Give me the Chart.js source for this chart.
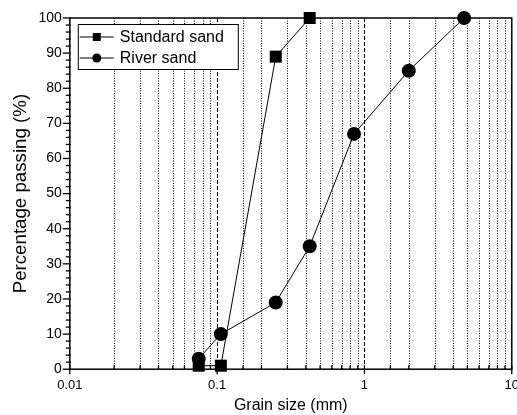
<!DOCTYPE html>
<html>
<head>
<meta charset="utf-8">
<script src="https://cdn.jsdelivr.net/npm/chart.js@4.4.1/dist/chart.umd.min.js"></script>
<style>
  html, body { margin: 0; padding: 0; background: #fff; overflow: hidden; }
  #wrap { width: 517px; height: 415px; overflow: hidden; }
</style>
</head>
<body>
<div id="wrap"><canvas id="myChart" width="527" height="415"></canvas></div>
<script>
// grain size (mm) and percentage passing
var sizeStandard = [0.075, 0.106, 0.25, 0.425];
var passStandard = [1, 1, 89, 100];
var sizeRiver = [0.075, 0.106, 0.25, 0.425, 0.85, 2, 4.75];
var passRiver = [3, 10, 19, 35, 67, 85, 100];
var xTickLabels = [0.01, 0.1, 1, 10];

function toPoints(xs, ys) {
    var pts = [];
    for (var i = 0; i < xs.length; i++) {
        pts.push({ x: xs[i], y: ys[i] });
    }
    return pts;
}

function isLabel(v) {
    for (var i = 0; i < xTickLabels.length; i++) {
        if (Math.abs(v - xTickLabels[i]) < xTickLabels[i] * 1e-6) return true;
    }
    return false;
}

// grid lines, ticks, frame and legend box
var framePlugin = {
    id: 'frame',
    beforeDatasetsDraw: function (chart) {
        var ctx = chart.ctx;
        var area = chart.chartArea;
        var xs = chart.scales.x;
        ctx.save();
        ctx.strokeStyle = '#000';
        ctx.lineWidth = 1;
        xs.ticks.forEach(function (t) {
            var px = Math.round(xs.getPixelForValue(t.value)) + 0.5;
            if (px <= area.left + 1 || px >= area.right - 1) return;
            ctx.setLineDash(isLabel(t.value) ? [4, 2] : [1, 1.5]);
            ctx.beginPath();
            ctx.moveTo(px, area.top);
            ctx.lineTo(px, area.bottom);
            ctx.stroke();
        });
        ctx.restore();
    },
    afterDraw: function (chart) {
        var ctx = chart.ctx;
        var area = chart.chartArea;
        var xs = chart.scales.x;
        var ys = chart.scales.y;
        ctx.save();
        ctx.strokeStyle = '#000';
        ctx.lineWidth = 1.5;
        ctx.setLineDash([]);
        ctx.strokeRect(area.left, area.top, area.right - area.left, area.bottom - area.top);

        ctx.lineWidth = 1.3;
        xs.ticks.forEach(function (t) {
            var px = xs.getPixelForValue(t.value);
            var major = isLabel(t.value);
            ctx.beginPath();
            ctx.moveTo(px, area.bottom - 4);
            ctx.lineTo(px, area.bottom + (major ? 5 : 0));
            ctx.stroke();
        });
        ys.ticks.forEach(function (t) {
            var py = ys.getPixelForValue(t.value);
            var major = t.value % 10 === 0;
            ctx.beginPath();
            ctx.moveTo(area.left - (major ? 7 : 4), py);
            ctx.lineTo(area.left + 1, py);
            ctx.stroke();
        });

        // legend
        var bx = area.left + 8, by = area.top + 6, bw = 160, bh = 45;
        ctx.fillStyle = '#fff';
        ctx.fillRect(bx, by, bw, bh);
        ctx.lineWidth = 1;
        ctx.strokeRect(bx + 0.5, by + 0.5, bw, bh);
        ctx.font = '16px "Liberation Sans", Arial, sans-serif';
        ctx.textBaseline = 'middle';
        chart.data.datasets.forEach(function (ds, i) {
            var cy = by + 13 + i * 21;
            ctx.beginPath();
            ctx.moveTo(bx + 2, cy);
            ctx.lineTo(bx + 36, cy);
            ctx.stroke();
            ctx.fillStyle = '#000';
            if (ds.pointStyle === 'rect') {
                ctx.fillRect(bx + 19 - 4, cy - 4, 8, 8);
            } else {
                ctx.beginPath();
                ctx.arc(bx + 19, cy, 4.5, 0, Math.PI * 2);
                ctx.fill();
            }
            ctx.fillText(ds.label, bx + 42, cy + 1);
        });
        ctx.restore();
    }
};

var data = {
    datasets: [
        {
            label: 'Standard sand',
            data: toPoints(sizeStandard, passStandard),
            borderColor: '#000',
            backgroundColor: '#000',
            borderWidth: 1,
            pointStyle: 'rect',
            pointRadius: 8.5,
            pointBorderWidth: 0,
            clip: false
        },
        {
            label: 'River sand',
            data: toPoints(sizeRiver, passRiver),
            borderColor: '#000',
            backgroundColor: '#000',
            borderWidth: 1,
            pointStyle: 'circle',
            pointRadius: 7,
            pointBorderWidth: 0,
            clip: false
        }
    ]
};

function createChart() {
    var ctx = document.getElementById('myChart').getContext('2d');
    new Chart(ctx, {
        type: 'line',
        data: data,
        plugins: [framePlugin],
        options: {
            responsive: false,
            animation: false,
            devicePixelRatio: 1,
            layout: { padding: { top: 18, right: 13, left: 10, bottom: 0 } },
            plugins: {
                legend: { display: false },
                tooltip: { enabled: false }
            },
            scales: {
                x: {
                    type: 'logarithmic',
                    min: 0.01,
                    max: 10,
                    grid: { display: false, drawTicks: false },
                    border: { display: false },
                    title: {
                        display: true,
                        text: 'Grain size (mm)',
                        color: '#000',
                        font: { family: '"Liberation Sans", Arial, sans-serif', size: 16 },
                        padding: { top: -5, bottom: 0 }
                    },
                    ticks: {
                        autoSkip: false,
                        maxRotation: 0,
                        color: '#000',
                        padding: 8,
                        font: { family: '"Liberation Sans", Arial, sans-serif', size: 13 },
                        callback: function (v) {
                            return isLabel(v) ? String(v) : '';
                        }
                    }
                },
                y: {
                    min: 0,
                    max: 100,
                    grid: { display: false, drawTicks: false },
                    border: { display: false },
                    title: {
                        display: true,
                        text: 'Percentage passing (%)',
                        color: '#000',
                        font: { family: '"Liberation Sans", Arial, sans-serif', size: 18.7 },
                        padding: { top: 0, bottom: -2 }
                    },
                    ticks: {
                        stepSize: 2,
                        autoSkip: false,
                        color: '#000',
                        padding: 8,
                        font: { family: '"Liberation Sans", Arial, sans-serif', size: 14 },
                        callback: function (v) {
                            return v % 10 === 0 ? String(v) : '';
                        }
                    }
                }
            }
        }
    });
}
createChart();
</script>
</body>
</html>
